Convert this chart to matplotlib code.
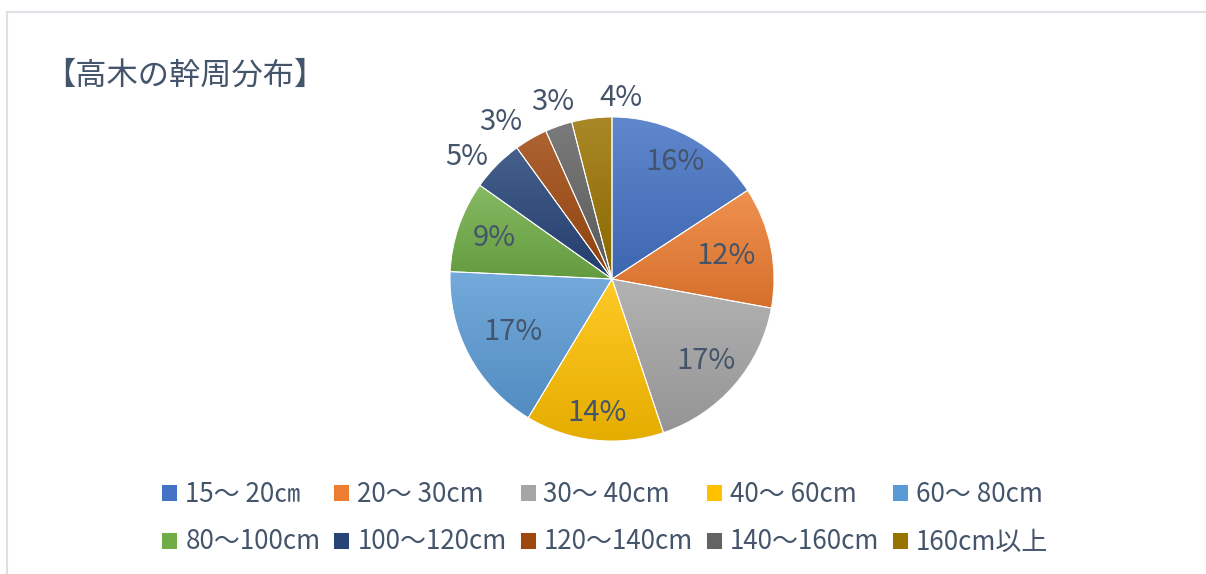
import numpy as np
import matplotlib
matplotlib.use("Agg")
import matplotlib.pyplot as plt
from matplotlib.colors import to_rgb
from matplotlib.patches import Rectangle

plt.rcParams['font.family'] = ['Noto Sans CJK JP', 'DejaVu Sans']

# データ (各区分の割合 %)
labels = ["15～ 20㎝", "20～ 30cm", "30～ 40cm", "40～ 60cm", "60～ 80cm",
          "80～100cm", "100～120cm", "120～140cm", "140～160cm", "160cm以上"]
shares = [15.8, 12.1, 17.0, 13.8, 17.1, 9.1, 5.2, 3.3, 2.7, 4.0]
colors = ["#4472C4", "#ED7D31", "#A5A5A5", "#FFC000", "#5B9BD5",
          "#70AD47", "#264478", "#9E480E", "#636363", "#997300"]
title = "【高木の幹周分布】"

# ラベル位置 (半径比, 角度ずらし)
label_r = [0.82, 0.72, 0.77, 0.83, 0.69, 0.77, 1.17, 1.19, 1.15, 1.12]
label_shift = [0, 0, 0, 0, 0, 0, 4.8, 5.4, -0.6, -9.9]

TXT = "#44546A"
W, H = 1206, 574

fig = plt.figure(figsize=(W / 100, H / 100), dpi=100)
fig.patch.set_facecolor("white")

# 外枠 (左と上だけ見える)
fig.patches.append(Rectangle((7 / W, -0.2), 1.2, (H - 12) / H + 0.2,
                             transform=fig.transFigure, fill=False,
                             edgecolor="#DDE1E6", linewidth=1.5))

fig.text(44 / W, 1 - 76 / H, title, fontsize=22.5, color=TXT,
         ha="left", va="center")

cx, cy, R = 612, 279, 162
ax = fig.add_axes([(cx - R) / W, (H - cy - R) / H, 2 * R / W, 2 * R / H])
ax.set_xlim(-1, 1)
ax.set_ylim(-1, 1)
ax.axis("off")

wedges, _ = ax.pie(shares, colors=colors, startangle=90, counterclock=False,
                   radius=1, wedgeprops=dict(edgecolor="white", linewidth=0.7))

# 凡例は行方向に並べる (2行×5列)
order = [0, 5, 1, 6, 2, 7, 3, 8, 4, 9]
leg = fig.legend([wedges[i] for i in order], [labels[i] for i in order],
                 ncol=5, loc="center left",
                 bbox_to_anchor=(138 / W, 1 - 518 / H), frameon=False,
                 fontsize=18.7, labelcolor=TXT, handlelength=0.62, handleheight=0.62,
                 handletextpad=0.3, columnspacing=0.5, labelspacing=0.8)


def mix(c, t, amt):
    return tuple(a + (b - a) * amt for a, b in zip(c, t))


# 各扇形に縦グラデーション
for w, col in zip(wedges, colors):
    base = to_rgb(col)
    top = mix(base, (1, 1, 1), 0.15)
    bot = tuple(v * 0.9 for v in base)
    th = np.radians(np.linspace(w.theta1, w.theta2, 100))
    xs = np.concatenate([[0], np.cos(th)])
    ys = np.concatenate([[0], np.sin(th)])
    n = 64
    t = np.linspace(0, 1, n)[:, None]
    img = np.array(bot)[None, :] * (1 - t) + np.array(top)[None, :] * t
    im = ax.imshow(img[:, None, :], extent=[xs.min(), xs.max(), ys.min(), ys.max()],
                   origin="lower", aspect="auto", interpolation="bilinear", zorder=2)
    im.set_clip_path(w)
    w.set_facecolor("none")
    w.set_zorder(3)

ax.set_xlim(-1, 1)
ax.set_ylim(-1, 1)

for w, v, r, s in zip(wedges, shares, label_r, label_shift):
    a = np.radians((w.theta1 + w.theta2) / 2 + s)
    ax.text(r * np.cos(a), r * np.sin(a), f"{v:.0f}%", fontsize=21, color=TXT,
            ha="center", va="center", zorder=4)

fig.savefig("out.png", dpi=100)
